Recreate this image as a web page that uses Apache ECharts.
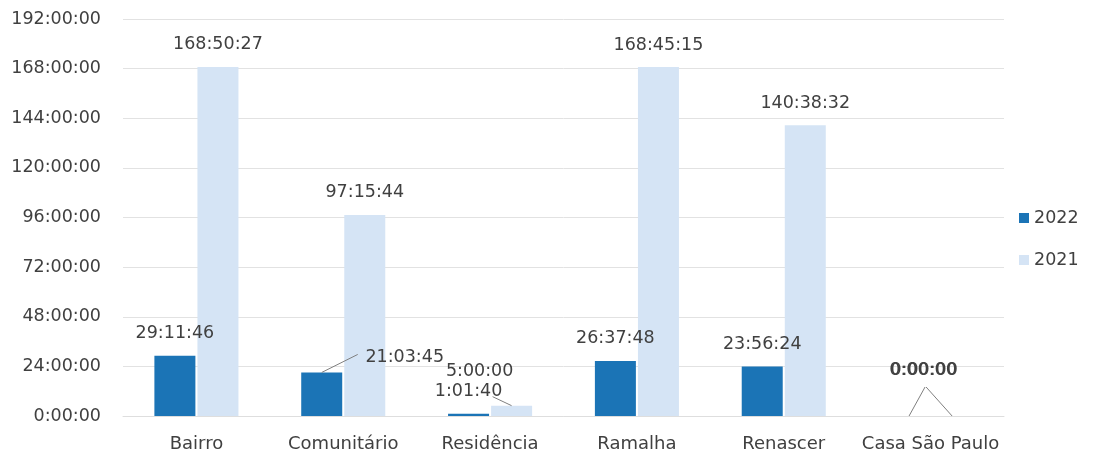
<!DOCTYPE html>
<html>
<head>
<meta charset="utf-8">
<script src="https://cdn.jsdelivr.net/npm/echarts@6/dist/echarts.min.js"></script>
<style>
  html, body { margin: 0; padding: 0; background: #ffffff; }
  #chart { width: 1115px; height: 456px; }
</style>
</head>
<body>
<div id="chart"></div>
<script>
// Time per site, h:mm:ss
const categories = ['Bairro', 'Comunitário', 'Residência', 'Ramalha', 'Renascer', 'Casa São Paulo'];
const durations2022 = ['29:11:46', '21:03:45', '1:01:40', '26:37:48', '23:56:24', '0:00:00'];
const durations2021 = ['168:50:27', '97:15:44', '5:00:00', '168:45:15', '140:38:32', '0:00:00'];
const seriesNames = ['2022', '2021'];
const axisMaxHours = 192;
const axisStepHours = 24;

const toSeconds = (s) => {
  const [h, m, sec] = s.split(':').map(Number);
  return h * 3600 + m * 60 + sec;
};
const formatDuration = (v) => {
  const h = Math.floor(v / 3600);
  const m = Math.floor((v % 3600) / 60);
  const s = Math.round(v % 60);
  return h + ':' + String(m).padStart(2, '0') + ':' + String(s).padStart(2, '0');
};

// Labels pushed aside from crowded bars, each with a leader line back to its bar
// (key: seriesIndex-dataIndex; lead = leader end relative to the bar's top centre)
const labelNudges = {
  '0-1': { dx: 83, dy: 7, lead: [36, -18] },
  '1-2': { dx: -32, dy: -12, lead: [-19, -9] },
  '0-5': { dx: 14, dy: -24, lead: [16, -29] },
  '1-5': { dx: -28, dy: -24, lead: [-26, -29] }
};

const FONT = 'DejaVu Sans';
const colors = ['#1b74b6', '#d5e4f5'];
const BAR_WIDTH = 41;
const BAR_GAP = 0.05;
const seriesDurations = [durations2022, durations2021];

const chart = echarts.init(document.getElementById('chart'), null, { renderer: 'canvas' });

const makeSeries = (name, durations, si) => ({
  name: name,
  type: 'bar',
  data: durations.map(toSeconds),
  barWidth: BAR_WIDTH,
  barGap: (BAR_GAP * 100) + '%',
  itemStyle: { color: colors[si] },
  label: {
    show: true,
    position: 'top',
    distance: 13,
    color: '#404040',
    fontFamily: FONT,
    fontSize: 17.5,
    formatter: (p) => formatDuration(p.value)
  },
  labelLayout: (p) => {
    const n = labelNudges[p.seriesIndex + '-' + p.dataIndex];
    return n ? { dx: n.dx, dy: n.dy } : {};
  }
});

// Leader lines: [category index, value, series index, lead x, lead y]
const leaderData = Object.keys(labelNudges).map((key) => {
  const [si, ci] = key.split('-').map(Number);
  const n = labelNudges[key];
  return [ci, toSeconds(seriesDurations[si][ci]), si, n.lead[0], n.lead[1]];
});

const leaderSeries = {
  type: 'custom',
  silent: true,
  z: 5,
  data: leaderData,
  encode: { x: 0, y: 1 },
  renderItem: (params, api) => {
    const pt = api.coord([api.value(0), api.value(1)]);
    const half = (BAR_WIDTH + BAR_WIDTH * BAR_GAP) / 2;
    const cx = pt[0] + (api.value(2) === 0 ? -half : half);
    return {
      type: 'line',
      shape: { x1: cx, y1: pt[1], x2: cx + api.value(3), y2: pt[1] + api.value(4) },
      style: { stroke: '#7f7f7f', lineWidth: 1 }
    };
  }
};

chart.setOption({
  animation: false,
  textStyle: { fontFamily: FONT },
  color: colors,
  grid: { left: 123, right: 111, top: 19, bottom: 40, containLabel: false },
  legend: {
    orient: 'vertical',
    left: 1014,
    top: 204,
    itemWidth: 10,
    itemHeight: 10,
    itemGap: 24,
    icon: 'rect',
    textStyle: { color: '#404040', fontSize: 17.5, fontFamily: FONT },
    data: seriesNames
  },
  xAxis: {
    type: 'category',
    data: categories,
    axisLine: { show: true, lineStyle: { color: '#dedede' } },
    axisTick: { show: false },
    axisLabel: { color: '#404040', fontSize: 18, fontFamily: FONT, margin: 19, interval: 0 }
  },
  yAxis: {
    type: 'value',
    min: 0,
    max: axisMaxHours * 3600,
    interval: axisStepHours * 3600,
    axisLine: { show: false },
    axisTick: { show: false },
    splitLine: { lineStyle: { color: '#e2e2e2', width: 1 } },
    axisLabel: {
      color: '#404040',
      fontSize: 17.5,
      fontFamily: FONT,
      margin: 22,
      formatter: formatDuration
    }
  },
  series: [
    makeSeries(seriesNames[0], durations2022, 0),
    makeSeries(seriesNames[1], durations2021, 1),
    leaderSeries
  ]
});
</script>
</body>
</html>
